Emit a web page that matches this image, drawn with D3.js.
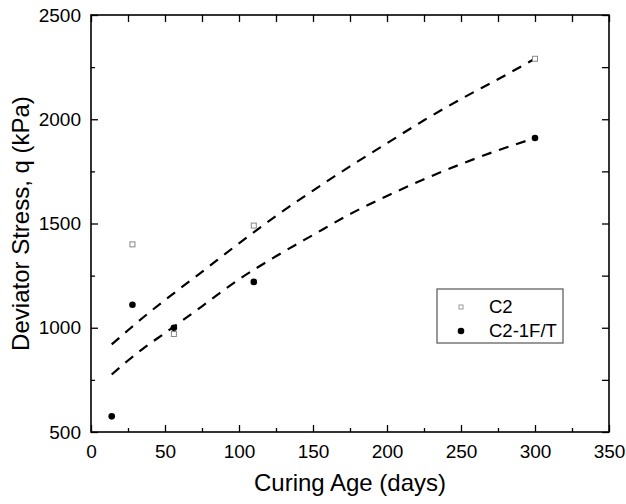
<!DOCTYPE html>
<html>
<head>
<meta charset="utf-8">
<script src="https://cdn.jsdelivr.net/npm/d3@7"></script>
<style>
  body { margin: 0; background: #fff; }
</style>
</head>
<body>
<script>
// measured points
const c2Days = [28, 56, 110, 300];
const c2Stress = [1400, 970, 1490, 2290];
const ftDays = [14, 28, 56, 110, 300];
const ftStress = [575, 1110, 1000, 1220, 1910];

// fitted trend lines
const fitDays = [14, 25, 35, 50, 75, 100, 125, 150, 175, 200, 225, 250, 275, 300];
const c2Fit = [920, 988, 1048, 1133, 1268, 1405, 1536, 1658, 1774, 1885, 1995, 2097, 2192, 2290];
const ftFit = [776, 843, 899, 975, 1103, 1232, 1343, 1445, 1545, 1632, 1712, 1785, 1851, 1910];

const xTicks = [0, 50, 100, 150, 200, 250, 300, 350];
const yTicks = [500, 1000, 1500, 2000, 2500];
const legendNames = ["C2", "C2-1F/T"];

let width = 626,
	height = 504;

let margin = {top: 15, right: 17, bottom: 72, left: 91};

let svg = d3.select("body")
	.append("svg")
	.attr("width", width)
	.attr("height", height)
	.attr("font-family", "Liberation Sans, Arial, sans-serif");

let x = d3.scaleLinear().domain([0, 350]).range([margin.left, width - margin.right]);
let y = d3.scaleLinear().domain([500, 2500]).range([height - margin.bottom, margin.top]);

let minorX = d3.range(25, 350, 50);
let minorY = d3.range(750, 2500, 500);

let pBottom = height - margin.bottom, pTop = margin.top;
let pLeft = margin.left, pRight = width - margin.right;

// axes, ticks pointing inward
function tickAxis(axis, scale, ticks, size, labels) {
	return axis(scale).tickValues(ticks).tickSizeInner(size).tickSizeOuter(0)
		.tickPadding(10).tickFormat(labels ? d3.format("d") : "");
}

let xAxis = svg.append("g").attr("transform", "translate(0," + pBottom + ")")
	.call(tickAxis(d3.axisBottom, x, xTicks, -7, true));
xAxis.selectAll("text").attr("dy", "0.85em");
svg.append("g").attr("transform", "translate(0," + pBottom + ")")
	.call(tickAxis(d3.axisBottom, x, minorX, -4, false));
svg.append("g").attr("transform", "translate(0," + pTop + ")")
	.call(tickAxis(d3.axisTop, x, xTicks.concat(minorX), -7, false));

svg.append("g").attr("transform", "translate(" + pLeft + ",0)")
	.call(tickAxis(d3.axisLeft, y, yTicks, -7, true));
svg.append("g").attr("transform", "translate(" + pLeft + ",0)")
	.call(tickAxis(d3.axisLeft, y, minorY, -4, false));
svg.append("g").attr("transform", "translate(" + pRight + ",0)")
	.call(tickAxis(d3.axisRight, y, yTicks.concat(minorY), -7, false));

svg.selectAll(".tick line").attr("stroke", "#000").attr("stroke-width", 1.3);
svg.selectAll(".domain").remove();
svg.selectAll(".tick text").attr("font-size", 19).attr("fill", "#000");

// frame
svg.append("rect")
	.attr("x", pLeft).attr("y", pTop)
	.attr("width", pRight - pLeft).attr("height", pBottom - pTop)
	.attr("fill", "none").attr("stroke", "#000").attr("stroke-width", 1.6);

// fit lines
let line = d3.line()
	.x(function(d) { return x(d[0]); })
	.y(function(d) { return y(d[1]); })
	.curve(d3.curveMonotoneX);

[c2Fit, ftFit].forEach(function(fit) {
	svg.append("path")
		.datum(fitDays.map(function(d, i) { return [d, fit[i]]; }))
		.attr("d", line)
		.attr("fill", "none")
		.attr("stroke", "#000")
		.attr("stroke-width", 2.2)
		.attr("stroke-dasharray", "10,8");
});

// points
svg.selectAll(".c2")
	.data(c2Days)
	.enter().append("rect")
	.attr("class", "c2")
	.attr("x", function(d) { return x(d) - 2.5; })
	.attr("y", function(d, i) { return y(c2Stress[i]) - 2.5; })
	.attr("width", 5).attr("height", 5)
	.attr("fill", "#fff").attr("stroke", "#888").attr("stroke-width", 1);

svg.selectAll(".ft")
	.data(ftDays)
	.enter().append("circle")
	.attr("class", "ft")
	.attr("cx", function(d) { return x(d); })
	.attr("cy", function(d, i) { return y(ftStress[i]); })
	.attr("r", 3.3)
	.attr("fill", "#000");

// axis titles
svg.append("text")
	.attr("x", (pLeft + pRight) / 2).attr("y", 491)
	.attr("text-anchor", "middle").attr("font-size", 24)
	.text("Curing Age (days)");

svg.append("text")
	.attr("transform", "translate(29," + (pTop + pBottom) / 2 + ") rotate(-90)")
	.attr("text-anchor", "middle").attr("font-size", 24)
	.text("Deviator Stress, q (kPa)");

// legend
let lg = svg.append("g").attr("transform", "translate(437,289)");
lg.append("rect")
	.attr("width", 126).attr("height", 54)
	.attr("fill", "#fff").attr("stroke", "#555").attr("stroke-width", 1.2);
lg.append("rect")
	.attr("x", 22).attr("y", 16).attr("width", 4).attr("height", 4)
	.attr("fill", "#fff").attr("stroke", "#999").attr("stroke-width", 1);
lg.append("circle")
	.attr("cx", 24).attr("cy", 42).attr("r", 3.3).attr("fill", "#000");
lg.selectAll(".lbl")
	.data(legendNames)
	.enter().append("text")
	.attr("class", "lbl")
	.attr("x", 52)
	.attr("y", function(d, i) { return 18 + i * 24; })
	.attr("dy", "0.35em")
	.attr("font-size", 18.5)
	.text(function(d) { return d; });
</script>
</body>
</html>
